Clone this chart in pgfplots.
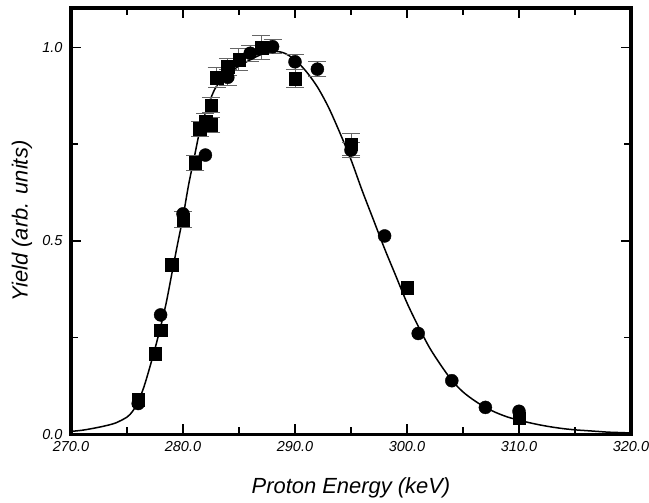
\documentclass[border=0pt]{standalone}
\usepackage{fontspec}
\setmainfont{Liberation Sans}
\usepackage{pgfplots}
\pgfplotsset{compat=1.18}
\usepackage{pgfplotstable}

% fitted curve
\pgfplotstableread{
x y
270 0.008
271 0.011
272 0.016
273 0.022
274 0.030
275 0.045
275.5 0.060
276 0.085
276.5 0.122
277 0.170
277.5 0.222
278 0.278
278.5 0.340
279 0.415
279.5 0.490
280 0.562
280.5 0.645
281 0.715
281.5 0.785
282 0.830
282.5 0.870
283 0.900
284 0.932
285 0.952
286 0.968
287 0.982
288 0.990
289 0.986
290 0.968
291 0.938
292 0.898
293 0.845
294 0.780
295 0.710
296 0.630
297 0.555
298 0.480
299 0.410
300 0.340
301 0.280
302 0.225
303 0.180
304 0.140
305 0.110
306 0.088
307 0.070
308 0.056
309 0.045
310 0.037
311 0.030
312 0.024
313 0.019
314 0.015
315 0.012
316 0.010
317 0.008
318 0.006
319 0.005
320 0.004
}\fitcurve

% squares with error bars
\pgfplotstableread{
x y ey
280.0 0.555 0.021
281.1 0.702 0.020
281.5 0.790 0.020
282.0 0.810 0.020
282.5 0.800 0.020
282.5 0.851 0.020
283.0 0.922 0.025
284.0 0.950 0.022
285.0 0.969 0.028
287.0 1.000 0.031
290.0 0.920 0.024
295.0 0.750 0.028
}\sqerr

% squares without visible bars
\pgfplotstableread{
x y
276.0 0.090
277.5 0.209
278.0 0.269
279.0 0.439
300.0 0.379
310.0 0.042
}\sqplain

% circles with error bars
\pgfplotstableread{
x y ey
284.0 0.923 0.020
286.0 0.985 0.020
288.0 1.002 0.018
290.0 0.963 0.020
292.0 0.944 0.020
295.0 0.735 0.020
}\ciaerr

% circles without visible bars
\pgfplotstableread{
x y
276.0 0.080
278.0 0.309
280.0 0.570
282.0 0.722
298.0 0.513
301.0 0.261
304.0 0.139
307.0 0.070
310.0 0.060
}\ciplain

\begin{document}
\begin{tikzpicture}
\begin{axis}[
    name=ax,
    scale only axis,
    width=560bp, height=426.5bp,
    xmin=270, xmax=320,
    ymin=0, ymax=1.102,
    axis line style={line width=3.5bp},
    tick align=inside,
    tick style={black, line width=1.5bp},
    major tick length=10bp,
    minor tick length=7bp,
    xtick={270,280,290,300,310,320},
    xticklabels={270.0,280.0,290.0,300.0,310.0,320.0},
    minor xtick={275,285,295,305,315},
    ytick={0,0.5,1},
    yticklabels={0.0,0.5,1.0},
    minor ytick={0.25,0.75},
    ticklabel style={font=\fontsize{14.5}{16}\selectfont\itshape},
    xticklabel style={yshift=-3bp},
    yticklabel style={xshift=-5bp},
    xlabel={Proton Energy (keV)},
    ylabel={Yield (arb. units)},
    label style={font=\fontsize{22}{26}\selectfont\itshape},
    xlabel style={at={(axis description cs:0.5,0)}, anchor=center, yshift=-53bp},
    ylabel style={at={(axis description cs:0,0.5)}, anchor=center, yshift=49bp},
]
\addplot[black, line width=1.5bp, smooth, no markers] table[x=x, y=y] {\fitcurve};
\addplot[only marks, mark=*, mark size=6.5bp, black,
    error bars/.cd, y dir=both, y explicit,
    error bar style={black!60, line width=1bp},
    error mark options={rotate=90, black!60, mark size=9bp, line width=1bp}]
    table[x=x, y=y, y error=ey] {\ciaerr};
\addplot[only marks, mark=*, mark size=6.5bp, black] table[x=x, y=y] {\ciplain};
\addplot[only marks, mark=square*, mark size=6.3bp, black,
    error bars/.cd, y dir=both, y explicit,
    error bar style={black!60, line width=1bp},
    error mark options={rotate=90, black!60, mark size=9bp, line width=1bp}]
    table[x=x, y=y, y error=ey] {\sqerr};
\addplot[only marks, mark=square*, mark size=6.3bp, black] table[x=x, y=y] {\sqplain};
\end{axis}
\pgfresetboundingbox
\path[use as bounding box] ([shift={(-71bp,-68.5bp)}]ax.south west) rectangle ([shift={(578bp,434.5bp)}]ax.south west);
\end{tikzpicture}
\end{document}
